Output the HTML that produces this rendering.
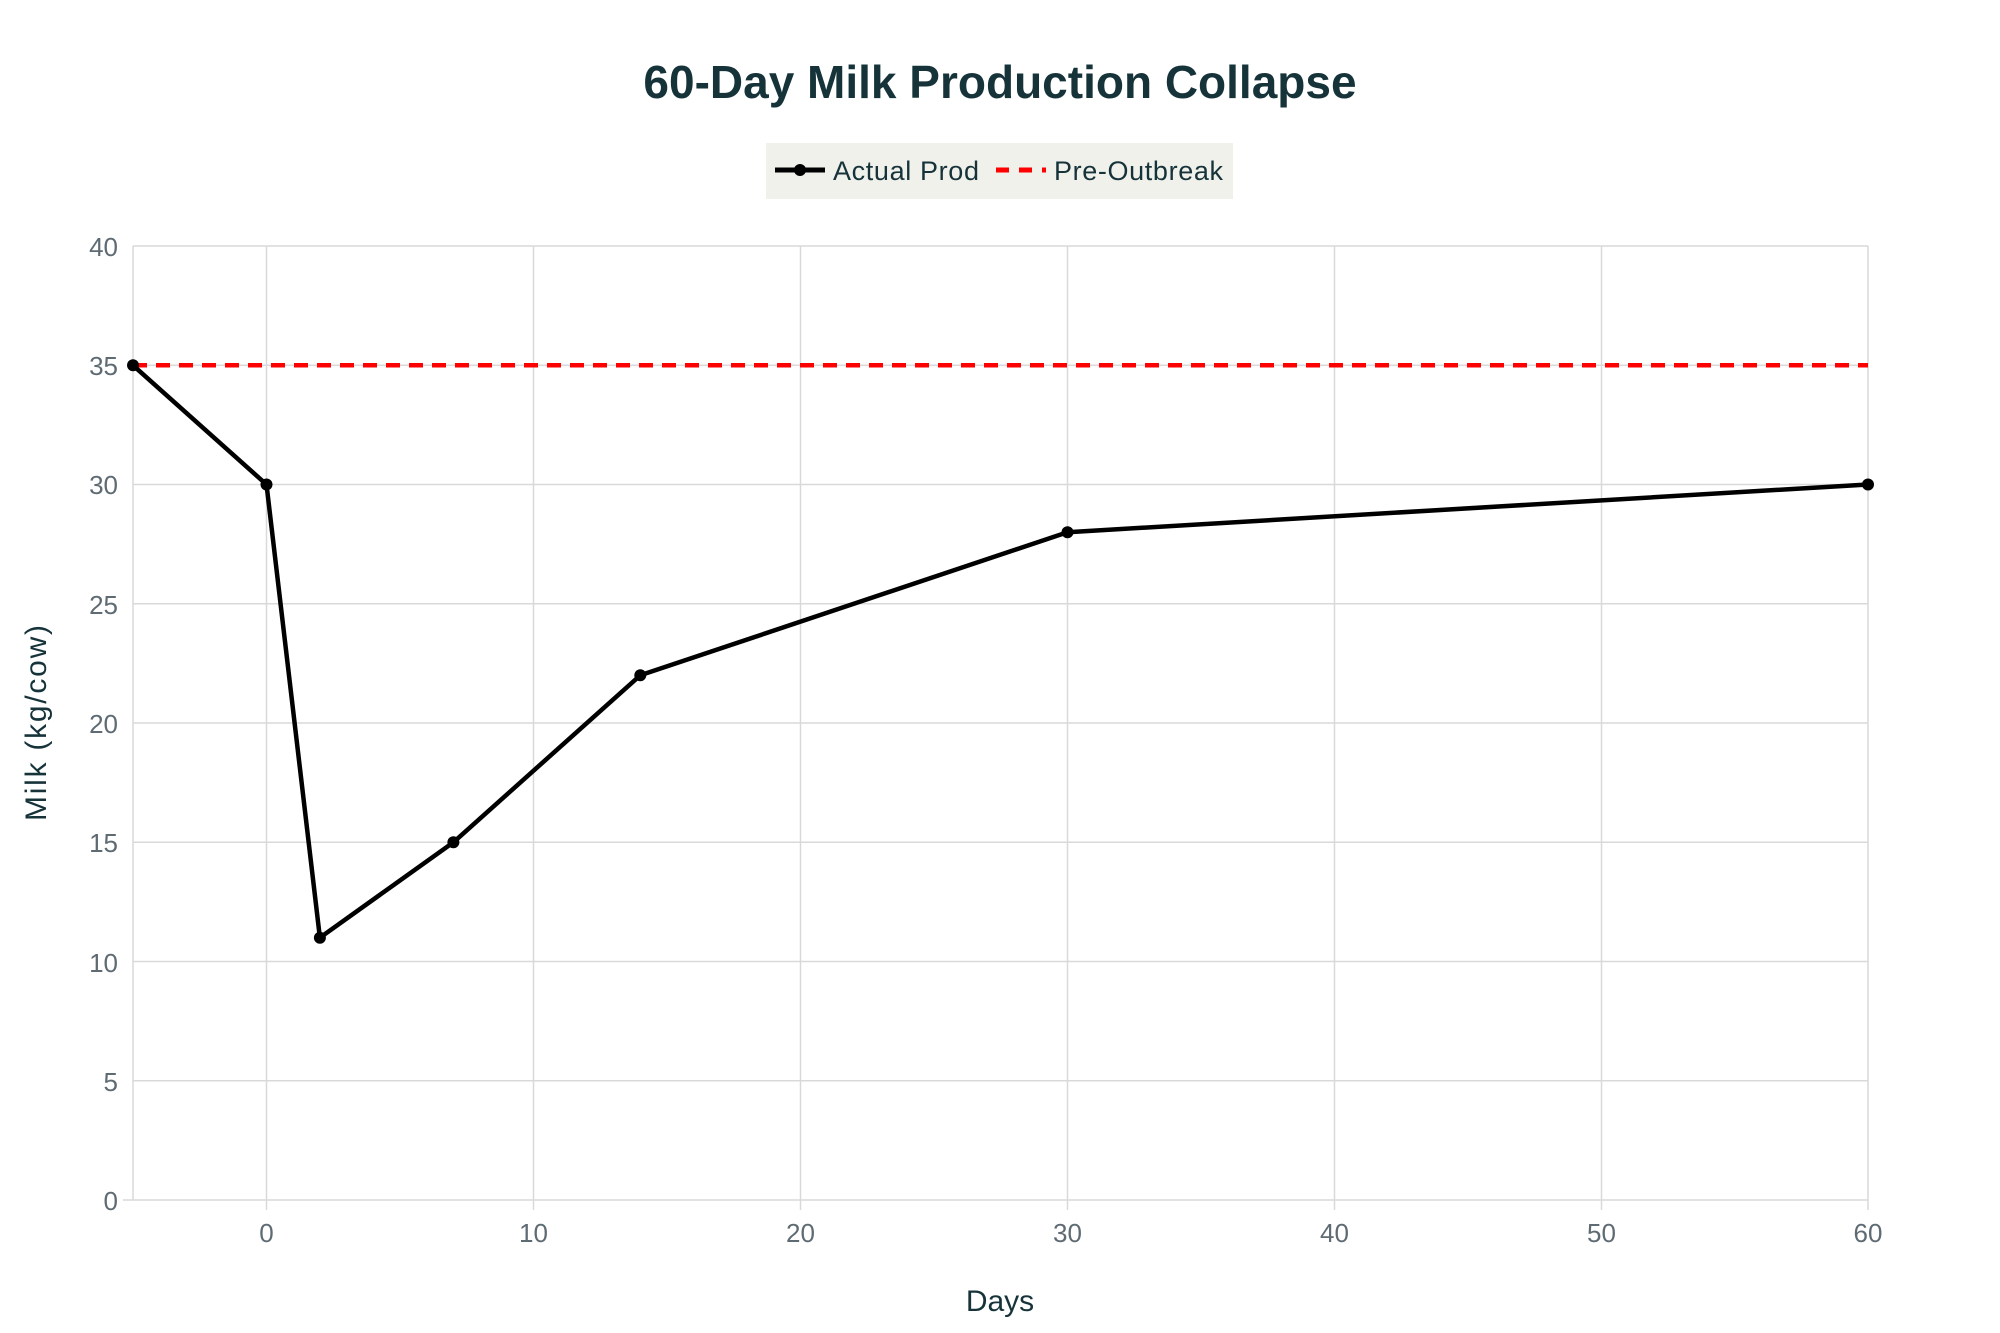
<!DOCTYPE html>
<html><head><style>
body{margin:0;background:#fff;}
svg{display:block;font-family:"Liberation Sans",sans-serif;}
</style></head><body>
<svg width="2000" height="1333" viewBox="0 0 2000 1333">
<rect width="2000" height="1333" fill="#fff"/>
<text x="1000" y="98" text-anchor="middle" font-size="46" font-weight="bold" fill="#16333a">60-Day Milk Production Collapse</text>
<rect x="766" y="143" width="467" height="56" fill="#f1f1ec"/>
<line x1="775" y1="170" x2="825" y2="170" stroke="#000" stroke-width="5"/>
<circle cx="800" cy="170" r="6" fill="#000"/>
<text x="833" y="180" font-size="27" fill="#16333a" textLength="146">Actual Prod</text>
<line x1="996" y1="170" x2="1046" y2="170" stroke="#f00" stroke-width="5" stroke-dasharray="13,10"/>
<text x="1054" y="180" font-size="27" fill="#16333a" textLength="169">Pre-Outbreak</text>
<g stroke="#d9d9d9" stroke-width="1.5">
<line x1="133" y1="246" x2="1868" y2="246"/>
<line x1="133" y1="365.3" x2="1868" y2="365.3"/>
<line x1="133" y1="484.5" x2="1868" y2="484.5"/>
<line x1="133" y1="603.8" x2="1868" y2="603.8"/>
<line x1="133" y1="723" x2="1868" y2="723"/>
<line x1="133" y1="842.3" x2="1868" y2="842.3"/>
<line x1="133" y1="961.5" x2="1868" y2="961.5"/>
<line x1="133" y1="1080.8" x2="1868" y2="1080.8"/>
<line x1="123" y1="1200" x2="1868" y2="1200"/>
<line x1="133" y1="246" x2="133" y2="1200"/>
<line x1="266.5" y1="246" x2="266.5" y2="1210"/>
<line x1="533.5" y1="246" x2="533.5" y2="1210"/>
<line x1="800.5" y1="246" x2="800.5" y2="1210"/>
<line x1="1067.5" y1="246" x2="1067.5" y2="1210"/>
<line x1="1334.5" y1="246" x2="1334.5" y2="1210"/>
<line x1="1601.5" y1="246" x2="1601.5" y2="1210"/>
<line x1="1868" y1="246" x2="1868" y2="1210"/>
</g>
<g font-size="26" fill="#5f6b73" text-anchor="end">
<text x="118" y="256">40</text><text x="118" y="375">35</text><text x="118" y="494">30</text>
<text x="118" y="614">25</text><text x="118" y="733">20</text><text x="118" y="852">15</text>
<text x="118" y="972">10</text><text x="118" y="1091">5</text><text x="118" y="1210">0</text>
</g>
<g font-size="26" fill="#5f6b73" text-anchor="middle">
<text x="266.5" y="1242">0</text><text x="533.5" y="1242">10</text><text x="800.5" y="1242">20</text>
<text x="1067.5" y="1242">30</text><text x="1334.5" y="1242">40</text><text x="1601.5" y="1242">50</text>
<text x="1868" y="1242">60</text>
</g>
<text x="1000" y="1311" text-anchor="middle" font-size="30" fill="#16333a">Days</text>
<text transform="translate(46,723) rotate(-90)" text-anchor="middle" font-size="30" fill="#16333a" textLength="196">Milk (kg/cow)</text>
<line x1="133" y1="365.3" x2="1868" y2="365.3" stroke="#f00" stroke-width="4.5" stroke-dasharray="14,9"/>
<polyline fill="none" stroke="#000" stroke-width="4.5" stroke-linejoin="round" points="133,365.3 266.5,484.5 319.9,937.7 453.4,842.3 640.3,675.3 1067.5,532.2 1868,484.5"/>
<g fill="#000">
<circle cx="133" cy="365.3" r="6"/><circle cx="266.5" cy="484.5" r="6"/><circle cx="319.9" cy="937.7" r="6"/>
<circle cx="453.4" cy="842.3" r="6"/><circle cx="640.3" cy="675.3" r="6"/><circle cx="1067.5" cy="532.2" r="6"/>
<circle cx="1868" cy="484.5" r="6"/>
</g>
</svg>
</body></html>
